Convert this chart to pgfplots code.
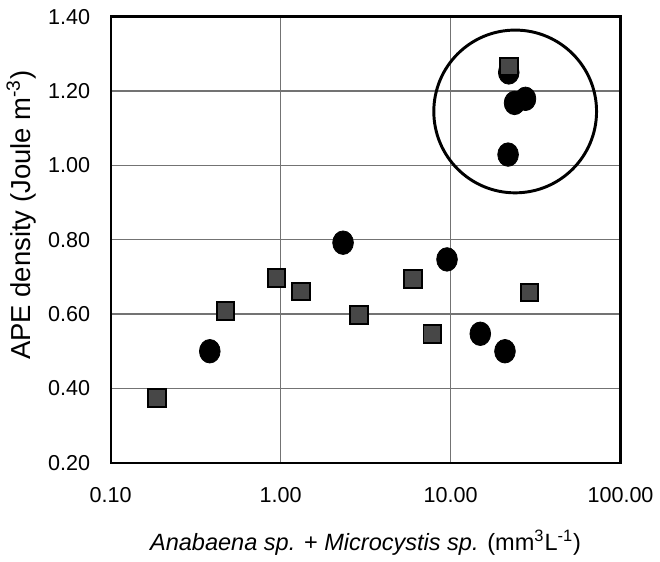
\documentclass[border=0pt]{standalone}
\usepackage{fontspec}
\setmainfont{Liberation Sans}
\usepackage{pgfplots}
\pgfplotsset{compat=1.18}

\begin{document}
\begin{tikzpicture}
\begin{axis}[
    scale only axis,
    width=260bp, height=227.5bp,
    xmode=log,
    xmin=0.1, xmax=100,
    ymin=0.2, ymax=1.4,
    xtick={0.1,1,10,100},
    xticklabels={0.10,1.00,10.00,100.00},
    ytick={0.2,0.4,0.6,0.8,1.0,1.2,1.4},
    yticklabels={0.20,0.40,0.60,0.80,1.00,1.20,1.40},
    minor xtick={},
    major tick length=0pt,
    minor tick length=0pt,
    grid=major,
    grid style={line width=0.6bp, black!55},
    axis line style={line width=1.2bp},
    tick label style={font=\fontsize{11bp}{12bp}\selectfont},
    /pgf/number format/assume math mode=true,
    xticklabel style={yshift=-9bp},
    yticklabel style={xshift=-7bp},
    xlabel={\textit{Anabaena sp.} + \textit{Microcystis sp.} (mm\textsuperscript{3}L\textsuperscript{-1})},
    ylabel={APE density (Joule m\textsuperscript{-3})},
    xlabel style={font=\fontsize{12bp}{14bp}\selectfont, at={(axis description cs:0.5,-0.1956)}, anchor=base},
    ylabel style={font=\fontsize{14bp}{16bp}\selectfont, at={(axis description cs:-0.158,0.555)}, anchor=base},
    clip=false,
]
\coordinate (sw) at (rel axis cs:0,0);
\addplot[only marks, mark=*, mark size=6bp, mark options={xscale=0.88, fill=black, draw=black}] coordinates {
    (0.383,0.500) (2.33,0.792) (9.53,0.747) (14.96,0.547) (20.9,0.500)
    (22.0,1.250) (23.8,1.168) (27.6,1.179) (21.8,1.029)
};
\addplot[only marks, mark=square*, mark size=4.5bp, mark options={fill=black!72, draw=black, line width=1bp}] coordinates {
    (0.187,0.374) (0.473,0.608) (0.944,0.697) (1.32,0.661) (2.88,0.597)
    (5.99,0.695) (7.81,0.547) (29.1,0.658) (22.0,1.266)
};
\draw[line width=1.5bp] (axis cs:24.0,1.145) circle[radius=41.5bp];
\end{axis}
\path (sw) ++(-56bp,-49.5bp) rectangle ++(330bp,285.5bp);
\end{tikzpicture}
\end{document}
